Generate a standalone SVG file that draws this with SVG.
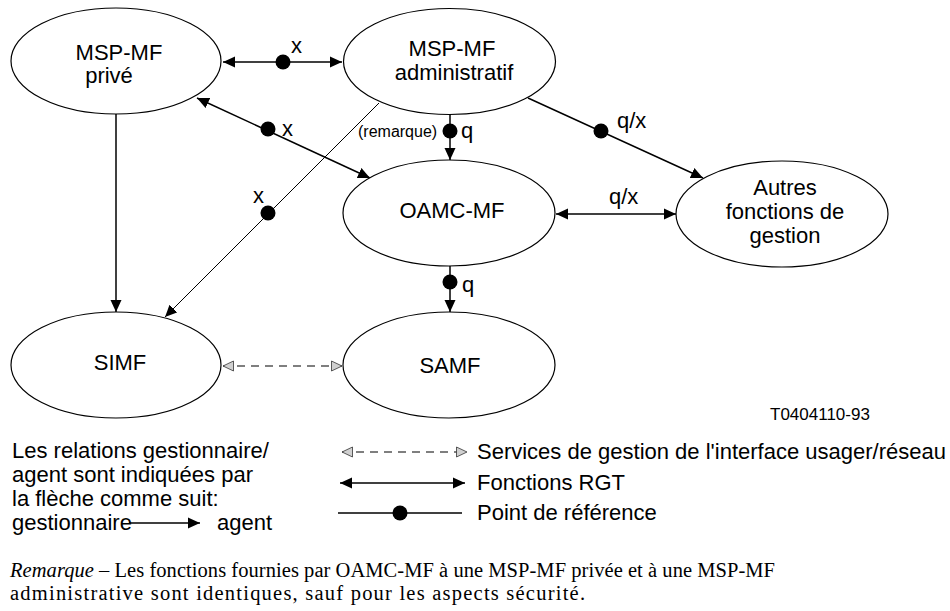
<svg xmlns="http://www.w3.org/2000/svg" width="950" height="611" viewBox="0 0 950 611">
  <style>
    .node { fill: #fff; stroke: #000; stroke-width: 1.2; }
    .lbl { font-family: "Liberation Sans", Arial, sans-serif; font-size: 22px; fill: #000; }
    .nlbl { font-family: "Liberation Sans", Arial, sans-serif; font-size: 22px; fill: #000; text-anchor: middle; }
    .small { font-family: "Liberation Sans", Arial, sans-serif; font-size: 16px; fill: #000; }
    .ref { font-family: "Liberation Sans", Arial, sans-serif; font-size: 17px; fill: #000; }
    .note { font-family: "Liberation Serif", "Times New Roman", serif; font-size: 20.5px; fill: #000; }
    .conn { stroke: #000; stroke-width: 1.5; fill: none; }
    .thin { stroke: #000; stroke-width: 1; fill: none; }
    .dash { stroke: #555; stroke-width: 1.3; stroke-dasharray: 8 6; fill: none; }
    .dot { fill: #000; }
  </style>
  <defs>
    <marker id="arr" markerUnits="userSpaceOnUse" markerWidth="13" markerHeight="12" refX="12" refY="6" orient="auto-start-reverse">
      <path d="M0,0.5 L12,6 L0,11.5 z" fill="#000"/>
    </marker>
    <marker id="tri" markerUnits="userSpaceOnUse" markerWidth="12" markerHeight="12" refX="11" refY="6" orient="auto-start-reverse">
      <path d="M0.5,1 L11,6 L0.5,11 z" fill="#d0d0d0" stroke="#333" stroke-width="0.8"/>
    </marker>
  </defs>

  <!-- connectors -->
  <g id="connectors">
    <!-- MSP-MF privé <-> MSP-MF administratif -->
    <line class="conn" x1="223" y1="62" x2="342" y2="62" marker-start="url(#arr)" marker-end="url(#arr)"/>
    <circle class="dot" cx="283" cy="62" r="7.5"/>
    <text class="lbl" x="291" y="53" font-size="21">x</text>

    <!-- MSP-MF privé <-> OAMC-MF -->
    <line class="conn" x1="197" y1="98" x2="370" y2="178" marker-start="url(#arr)" marker-end="url(#arr)"/>
    <circle class="dot" cx="268" cy="129" r="7.5"/>
    <text class="lbl" x="282" y="136" font-size="21">x</text>

    <!-- MSP-MF administratif -> OAMC-MF -->
    <line class="conn" x1="450" y1="115" x2="450" y2="160" marker-end="url(#arr)"/>
    <circle class="dot" cx="450" cy="131" r="7.5"/>
    <text class="lbl" x="461" y="138" font-size="21">q</text>
    <text class="small" x="358" y="137">(remarque)</text>

    <!-- MSP-MF administratif -> Autres fonctions de gestion -->
    <line class="conn" x1="528" y1="98" x2="703" y2="178" marker-end="url(#arr)"/>
    <circle class="dot" cx="601" cy="131" r="7.5"/>
    <text class="lbl" x="617" y="128" font-size="21">q/x</text>

    <!-- OAMC-MF <-> Autres fonctions de gestion -->
    <line class="conn" x1="556" y1="214" x2="676" y2="214" marker-start="url(#arr)" marker-end="url(#arr)"/>
    <text class="lbl" x="609" y="204" font-size="21">q/x</text>

    <!-- MSP-MF administratif -> SIMF -->
    <line class="thin" x1="379" y1="103" x2="165" y2="317" marker-end="url(#arr)"/>
    <circle class="dot" cx="268" cy="213" r="7.5"/>
    <text class="lbl" x="253" y="203" font-size="21">x</text>

    <!-- MSP-MF privé -> SIMF -->
    <line class="conn" x1="116" y1="114" x2="116" y2="312" marker-end="url(#arr)"/>

    <!-- OAMC-MF -> SAMF -->
    <line class="conn" x1="450" y1="266" x2="450" y2="312" marker-end="url(#arr)"/>
    <circle class="dot" cx="450" cy="282" r="7.5"/>
    <text class="lbl" x="462" y="292" font-size="21">q</text>

    <!-- SIMF <-> SAMF (interface usager/réseau) -->
    <line class="dash" x1="223" y1="366" x2="342" y2="366" marker-start="url(#tri)" marker-end="url(#tri)"/>
  </g>

  <!-- nodes -->
  <g id="msp-mf-prive">
    <ellipse class="node" cx="116" cy="61" rx="105" ry="53"/>
    <text class="nlbl" x="119" y="60">MSP-MF</text>
    <text class="nlbl" x="109" y="83">privé</text>
  </g>
  <g id="msp-mf-administratif">
    <ellipse class="node" cx="449.5" cy="61.5" rx="106" ry="53"/>
    <text class="nlbl" x="452" y="56">MSP-MF</text>
    <text class="nlbl" x="454" y="80">administratif</text>
  </g>
  <g id="oamc-mf">
    <ellipse class="node" cx="449" cy="213" rx="106" ry="53"/>
    <text class="nlbl" x="452" y="218">OAMC-MF</text>
  </g>
  <g id="autres-fonctions">
    <ellipse class="node" cx="782" cy="214" rx="106" ry="53"/>
    <text class="nlbl" x="785" y="195">Autres</text>
    <text class="nlbl" x="785" y="219">fonctions de</text>
    <text class="nlbl" x="785" y="243">gestion</text>
  </g>
  <g id="simf">
    <ellipse class="node" cx="116" cy="365" rx="105" ry="53"/>
    <text class="nlbl" x="120" y="370">SIMF</text>
  </g>
  <g id="samf">
    <ellipse class="node" cx="449" cy="365" rx="106" ry="53"/>
    <text class="nlbl" x="450" y="373">SAMF</text>
  </g>

  <!-- figure reference -->
  <text class="ref" x="770" y="420">T0404110-93</text>

  <!-- legend: manager/agent convention -->
  <g id="legend-left">
    <text class="lbl" x="12" y="458">Les relations gestionnaire/</text>
    <text class="lbl" x="12" y="482">agent sont indiquées par</text>
    <text class="lbl" x="12" y="506">la flèche comme suit:</text>
    <text class="lbl" x="12" y="530">gestionnaire</text>
    <line class="conn" x1="129" y1="523" x2="200" y2="523" marker-end="url(#arr)"/>
    <text class="lbl" x="217" y="530">agent</text>
  </g>

  <!-- legend: line styles -->
  <g id="legend-right">
    <line class="dash" x1="342" y1="452" x2="467" y2="452" marker-start="url(#tri)" marker-end="url(#tri)"/>
    <text class="lbl" x="477" y="459" font-size="21">Services de gestion de l'interface usager/réseau</text>
    <line class="conn" x1="340" y1="483" x2="465" y2="483" marker-start="url(#arr)" marker-end="url(#arr)"/>
    <text class="lbl" x="477" y="490" font-size="21">Fonctions RGT</text>
    <line class="conn" x1="338" y1="513" x2="462" y2="513"/>
    <circle class="dot" cx="400" cy="513" r="7.5"/>
    <text class="lbl" x="477" y="520" font-size="21">Point de référence</text>
  </g>

  <!-- note -->
  <text class="note" x="10" y="577" textLength="765"><tspan font-style="italic">Remarque</tspan>  –  Les fonctions fournies par OAMC-MF à une MSP-MF privée et à une MSP-MF</text>
  <text class="note" x="10" y="600" textLength="575">administrative sont identiques, sauf pour les aspects sécurité.</text>
</svg>
